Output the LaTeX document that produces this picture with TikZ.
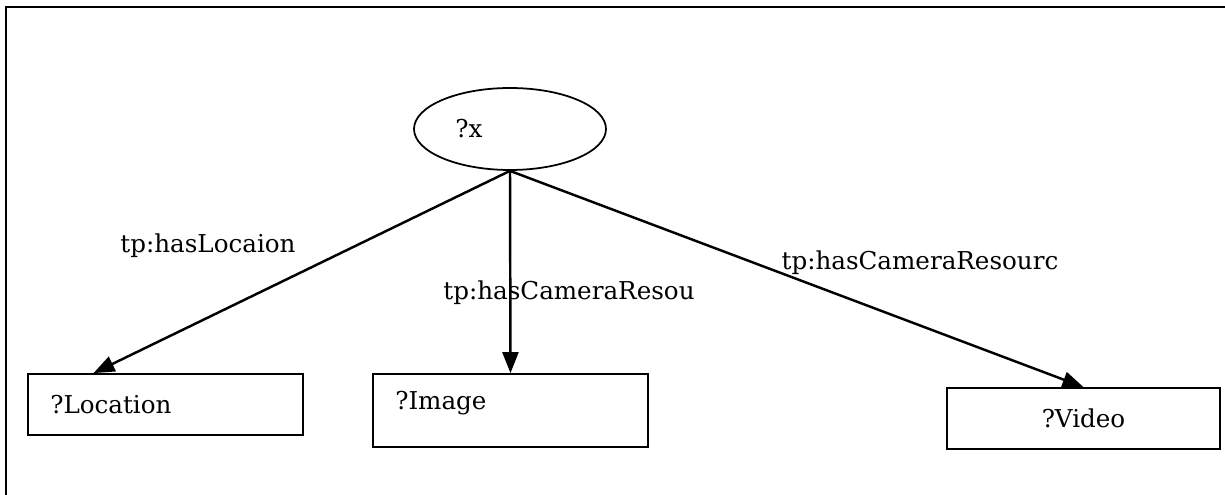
\documentclass[tikz,border=0pt]{standalone}
\usepackage{fontspec}
\setmainfont{DejaVu Serif}
\usetikzlibrary{shapes.geometric,arrows.meta}

\begin{document}
\begin{tikzpicture}[
	every node/.style={font=\fontsize{14}{17}\selectfont},
	varbox/.style={draw, line width=1pt, rectangle, minimum width=5.5cm, minimum height=1.22cm},
	varell/.style={draw, line width=1pt, ellipse, minimum width=3.84cm, minimum height=1.64cm},
	edge/.style={line width=1.4pt, -{Triangle[length=0.42cm, width=0.32cm]}},
	lbl/.style={inner sep=0pt}
	]
	\useasboundingbox (0,0) rectangle (24.5,9.9);
	% frame
	\draw[line width=1.6pt] (0.12,0) -- (0.12,9.76) -- (24.5,9.76);
	% query graph
	\node[varell, label={[xshift=-0.82cm]center:?x}] (x) at (10.2,7.32) {};
	\node[varbox, label={[anchor=west, xshift=0.34cm]west:?Location}] (loc) at (3.31,1.81) {};
	\node[varbox, minimum height=1.46cm, label={[anchor=west, xshift=0.34cm, yshift=0.15cm]west:?Image}] (img) at (10.21,1.69) {};
	\node[varbox, minimum width=5.46cm] (vid) at (21.67,1.53) {?Video};
	\draw[edge] (x.south) -- ([xshift=-1.44cm]loc.north);
	\draw[edge] (x.south) -- (img.north);
	\draw[edge] (x.south) -- (vid.north);
	\node[lbl] (l1) at (4.16,4.98) {tp:hasLocaion};
	\node[lbl] (l2) at (11.38,4.04) {tp:hasCameraResou};
	\node[lbl] (l3) at (18.4,4.64) {tp:hasCameraResourc};
\end{tikzpicture}
\end{document}
